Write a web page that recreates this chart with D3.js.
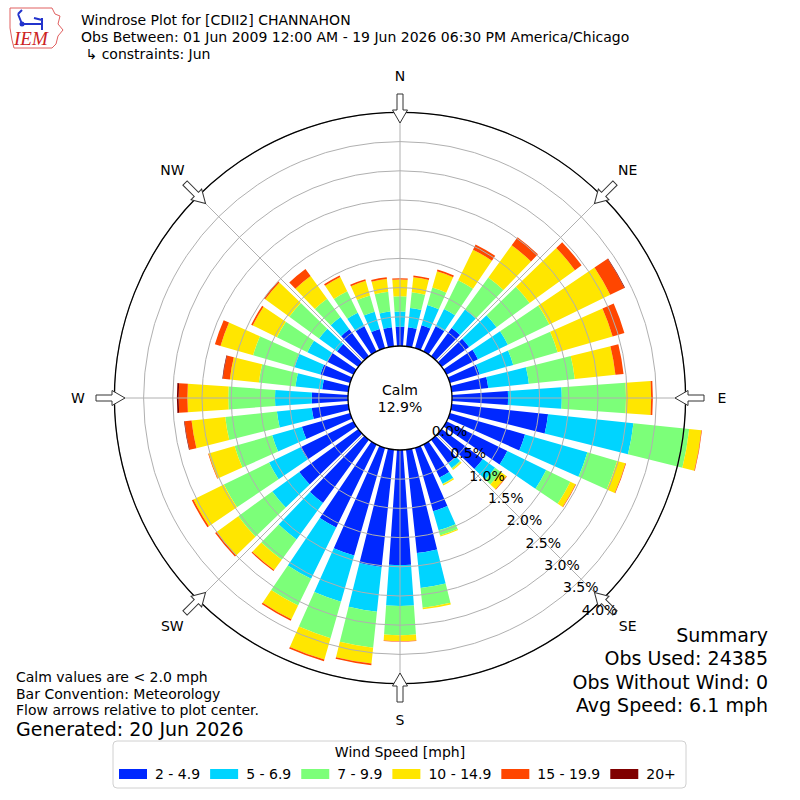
<!DOCTYPE html>
<html>
<head>
<meta charset="utf-8">
<script src="https://cdn.jsdelivr.net/npm/d3@7"></script>
<style>
  body { margin: 0; background: #fff; }
  svg { font-family: "DejaVu Sans", sans-serif; }
</style>
</head>
<body>
<div id="chart"></div>
<script>
// direction bins (degrees, meteorological convention, centred on each value)
const directions = d3.range(0, 360, 10);
const speedBins = ["2 - 4.9", "5 - 6.9", "7 - 9.9", "10 - 14.9", "15 - 19.9", "20+"];
const binColors = ["#0028ff", "#00d4ff", "#7cff79", "#ffe600", "#ff4600", "#800000"];

// percent of observations, one value per direction (0, 10, ... 350)
const pct2to5 = [0.33,0.33,0.41,0.48,0.60,0.58,0.60,0.53,0.63,0.96,1.66,1.34,1.16,0.87,0.50,0.63,1.13,1.78,
                 1.97,2.02,1.92,1.58,1.34,1.25,1.01,0.86,0.63,0.62,0.45,0.53,0.50,0.45,0.57,0.48,0.34,0.33];
const pct5to7 = [0.26,0.33,0.36,0.33,0.39,0.58,0.57,0.60,0.70,0.92,1.47,1.11,0.74,0.26,0.10,0.12,0.34,0.60,
                 0.70,0.77,0.82,0.98,0.77,0.57,0.60,0.53,0.60,0.63,0.46,0.46,0.38,0.38,0.26,0.26,0.31,0.27];
const pct7to10 = [0.26,0.27,0.31,0.55,0.68,0.70,0.79,0.79,0.79,1.10,0.96,0.53,0.46,0.12,0.02,0.01,0.09,0.34,
                  0.50,0.62,0.65,0.51,0.43,0.72,0.86,0.67,0.89,0.80,0.63,0.74,0.58,0.63,0.39,0.41,0.29,0.34];
const pct10to15 = [0.29,0.26,0.29,0.58,0.68,0.96,1.16,0.98,0.70,0.43,0.21,0.15,0.10,0.12,0.02,0.02,0.02,0.03,
                   0.10,0.27,0.38,0.26,0.22,0.46,0.58,0.46,0.58,0.70,0.50,0.58,0.46,0.51,0.48,0.27,0.26,0.22];
const pct15to20 = [0.02,0.03,0.03,0.10,0.17,0.14,0.27,0.21,0.14,0.03,0.01,0.01,0.01,0.01,0,0,0,0,
                   0.01,0.03,0.03,0.03,0.02,0.03,0.03,0.01,0.12,0.15,0.12,0.10,0.03,0.03,0.15,0.03,0.03,0.03];
const pct20plus = [0,0,0,0,0,0,0.01,0,0,0,0,0,0,0,0,0,0,0,
                   0,0,0,0,0,0,0,0,0.01,0.03,0.01,0,0,0,0,0,0,0];
const series = [pct2to5, pct5to7, pct7to10, pct10to15, pct15to20, pct20plus];

const ringTicks = d3.range(0, 4.01, 0.5);
const compass = [["N", 0], ["NE", 45], ["E", 90], ["SE", 135], ["S", 180], ["SW", 225], ["W", 270], ["NW", 315]];
const calmPct = "12.9%";

const titleLines = ["Windrose Plot for [CDII2] CHANNAHON",
                    "Obs Between: 01 Jun 2009 12:00 AM - 19 Jun 2026 06:30 PM America/Chicago",
                    " \u21B3 constraints: Jun"];
const noteLines = ["Calm values are < 2.0 mph", "Bar Convention: Meteorology", "Flow arrows relative to plot center."];
const generated = "Generated: 20 Jun 2026";
const summaryLines = ["Summary", "Obs Used: 24385", "Obs Without Wind: 0", "Avg Speed: 6.1 mph"];

const width = 800, height = 800;
const cx = 400, cy = 398;
const calmR = 52, outerR = 285.6;

const svg = d3.select("#chart").append("svg")
  .attr("width", width)
  .attr("height", height);

const r = d3.scaleLinear().domain([0, 4]).range([calmR, outerR]);
const rad = d => d * Math.PI / 180;

const plot = svg.append("g").attr("transform", `translate(${cx},${cy})`);

// stacked bars, small constant white gap on the sides
const arc = d3.arc().padRadius(100).padAngle(0.012);
const halfWidth = 4; // degrees
directions.forEach((dir, i) => {
  let base = 0;
  series.forEach((s, k) => {
    const v = s[i];
    if (v > 0) {
      plot.append("path")
        .attr("d", arc({
          innerRadius: r(base),
          outerRadius: r(base + v),
          startAngle: rad(dir - halfWidth),
          endAngle: rad(dir + halfWidth)
        }))
        .attr("fill", binColors[k]);
    }
    base += v;
  });
});

// grid
plot.selectAll("circle.ring")
  .data(ringTicks.slice(1))
  .enter().append("circle")
  .attr("r", d => r(d))
  .attr("fill", "none")
  .attr("stroke", "#b0b0b0")
  .attr("stroke-width", 1);

plot.selectAll("line.spoke")
  .data(compass)
  .enter().append("line")
  .attr("x1", d => calmR * Math.sin(rad(d[1])))
  .attr("y1", d => -calmR * Math.cos(rad(d[1])))
  .attr("x2", d => outerR * Math.sin(rad(d[1])))
  .attr("y2", d => -outerR * Math.cos(rad(d[1])))
  .attr("stroke", "#b0b0b0")
  .attr("stroke-width", 1);

// outer frame and calm circle
plot.append("circle").attr("r", outerR)
  .attr("fill", "none").attr("stroke", "#000").attr("stroke-width", 1.3);
plot.append("circle").attr("r", calmR)
  .attr("fill", "#fff").attr("stroke", "#000").attr("stroke-width", 1.3);

plot.append("text").attr("x", 0).attr("y", -8)
  .attr("text-anchor", "middle").attr("dominant-baseline", "central")
  .attr("font-size", 14).text("Calm");
plot.append("text").attr("x", 0).attr("y", 9)
  .attr("text-anchor", "middle").attr("dominant-baseline", "central")
  .attr("font-size", 14).text(calmPct);

// flow arrows pointing to centre
const arrowPath = "M-3,-304 L3,-304 L3,-288 L7.5,-288 L0,-275 L-7.5,-288 L-3,-288 Z";
plot.selectAll("path.arrow")
  .data(compass)
  .enter().append("path")
  .attr("d", arrowPath)
  .attr("transform", d => `rotate(${d[1]})`)
  .attr("fill", "#fff")
  .attr("stroke", "#333")
  .attr("stroke-width", 1);

// compass labels
plot.selectAll("text.dir")
  .data(compass)
  .enter().append("text")
  .attr("x", d => 322 * Math.sin(rad(d[1])))
  .attr("y", d => -322 * Math.cos(rad(d[1])))
  .attr("text-anchor", "middle")
  .attr("dominant-baseline", "central")
  .attr("font-size", 14)
  .text(d => d[0]);

// ring labels
const labelAngle = rad(140);
plot.selectAll("text.ring")
  .data(ringTicks)
  .enter().append("text")
  .attr("x", d => r(d) * Math.sin(labelAngle) + 16)
  .attr("y", d => -r(d) * Math.cos(labelAngle) - 7)
  .attr("text-anchor", "middle")
  .attr("dominant-baseline", "central")
  .attr("font-size", 14)
  .text(d => d.toFixed(1) + "%");

// title
svg.selectAll("text.title")
  .data(titleLines)
  .enter().append("text")
  .attr("x", 81)
  .attr("y", (d, i) => 25 + i * 17)
  .attr("font-size", 14)
  .attr("xml:space", "preserve")
  .style("white-space", "pre")
  .text(d => d);

// IEM logo (rough)
const logo = svg.append("g").attr("transform", "translate(8,4)");
logo.append("path")
  .attr("d", "M2,4 L44,4 L47,10 L52,12 L50,20 L55,26 L50,32 L48,40 L44,44 L6,44 L4,36 L2,24 Z")
  .attr("fill", "none").attr("stroke", "#e06060").attr("stroke-width", 1);
logo.append("path")
  .attr("d", "M14,20 L34,20 M34,14 L34,26 M26,14 L34,16 M10,10 L14,20 M14,6 L10,10")
  .attr("fill", "none").attr("stroke", "#2233cc").attr("stroke-width", 2);
logo.append("circle").attr("cx", 14).attr("cy", 20).attr("r", 2.5).attr("fill", "#2233cc");
logo.append("text").attr("x", 6).attr("y", 41)
  .attr("font-family", "Liberation Serif, serif").attr("font-style", "italic")
  .attr("font-size", 19).attr("fill", "#cc2222").text("IEM");

// notes bottom-left
svg.selectAll("text.note")
  .data(noteLines)
  .enter().append("text")
  .attr("x", 16)
  .attr("y", (d, i) => 682 + i * 16.5)
  .attr("font-size", 14)
  .text(d => d);
svg.append("text").attr("x", 16).attr("y", 736)
  .attr("font-size", 19).text(generated);

// summary bottom-right
svg.selectAll("text.summary")
  .data(summaryLines)
  .enter().append("text")
  .attr("x", 768)
  .attr("y", (d, i) => 642 + i * 23.3)
  .attr("text-anchor", "end")
  .attr("font-size", 19)
  .text(d => d);

// legend
const legend = svg.append("g");
legend.append("rect")
  .attr("x", 113).attr("y", 741).attr("width", 573).attr("height", 47)
  .attr("rx", 4).attr("fill", "#fff").attr("stroke", "#d0d0d0");
legend.append("text").attr("x", 400).attr("y", 752)
  .attr("text-anchor", "middle").attr("dominant-baseline", "central")
  .attr("font-size", 14).text("Wind Speed [mph]");
let lx = 119;
speedBins.forEach((label, k) => {
  legend.append("rect")
    .attr("x", lx).attr("y", 769).attr("width", 28).attr("height", 10)
    .attr("fill", binColors[k]);
  const t = legend.append("text")
    .attr("x", lx + 36).attr("y", 774)
    .attr("dominant-baseline", "central")
    .attr("font-size", 14).text(label);
  lx += 36 + t.node().getComputedTextLength() + 10;
});
</script>
</body>
</html>
